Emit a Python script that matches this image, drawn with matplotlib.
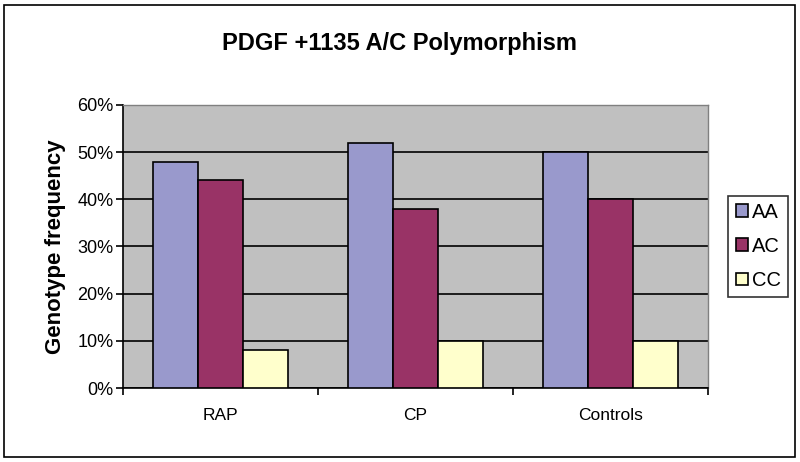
import matplotlib.pyplot as plt
import matplotlib.patches as mpatches
import numpy as np

plt.rcParams["font.family"] = ["Liberation Sans", "DejaVu Sans"]

categories = ["RAP", "CP", "Controls"]
genotypes = ["AA", "AC", "CC"]
aa_values = [48, 52, 50]
ac_values = [44, 38, 40]
cc_values = [8, 10, 10]
colors = ["#9999CC", "#993366", "#FFFFCC"]

fig = plt.figure(figsize=(8, 4.62), dpi=100)
# Outer chart border
fig.patches.append(mpatches.Rectangle((0.005, 0.011), 0.989, 0.978, transform=fig.transFigure,
                                      fill=False, edgecolor="black", linewidth=1.2))

ax = fig.add_axes([0.154, 0.160, 0.731, 0.613])
ax.set_facecolor("#C0C0C0")

x = np.arange(len(categories))
width = 0.23
for i, (vals, col) in enumerate(zip([aa_values, ac_values, cc_values], colors)):
    ax.bar(x + (i - 1) * width, vals, width, color=col, edgecolor="black",
           linewidth=1.2, label=genotypes[i], zorder=3)

ax.set_xlim(-0.5, len(categories) - 0.5)
ax.set_ylim(0, 60)
ax.set_yticks(range(0, 61, 10))
ax.set_yticklabels([f"{v}%" for v in range(0, 61, 10)], fontsize=13)
ax.yaxis.grid(True, color="black", linewidth=1.2, zorder=1)
ax.set_axisbelow(True)

ax.set_xticks(x)
ax.set_xticklabels(categories, fontsize=12.5)
ax.tick_params(axis="x", length=0, pad=14)
ax.set_xticks(np.arange(-0.5, len(categories), 1), minor=True)
ax.tick_params(axis="x", which="minor", length=5, width=1.2, direction="out")
ax.tick_params(axis="y", length=5, width=1.2, direction="out", pad=2)

for side in ["top", "right"]:
    ax.spines[side].set_color("#808080")
    ax.spines[side].set_linewidth(1.0)
for side in ["left", "bottom"]:
    ax.spines[side].set_color("black")
    ax.spines[side].set_linewidth(1.2)

ax.set_ylabel("Genotype frequency", fontsize=16, fontweight="bold", labelpad=8)
fig.text(0.5, 0.905, "PDGF +1135 A/C Polymorphism", fontsize=17, fontweight="bold",
         ha="center", va="center")

leg = ax.legend(loc="center left", bbox_to_anchor=(1.035, 0.5), fontsize=14.5,
                frameon=True, fancybox=False, edgecolor="black", handlelength=0.6,
                handleheight=0.6, handletextpad=0.2, borderpad=0.35, labelspacing=0.75,
                borderaxespad=0)
leg.get_frame().set_linewidth(1.2)

fig.savefig("out.png", dpi=100)
